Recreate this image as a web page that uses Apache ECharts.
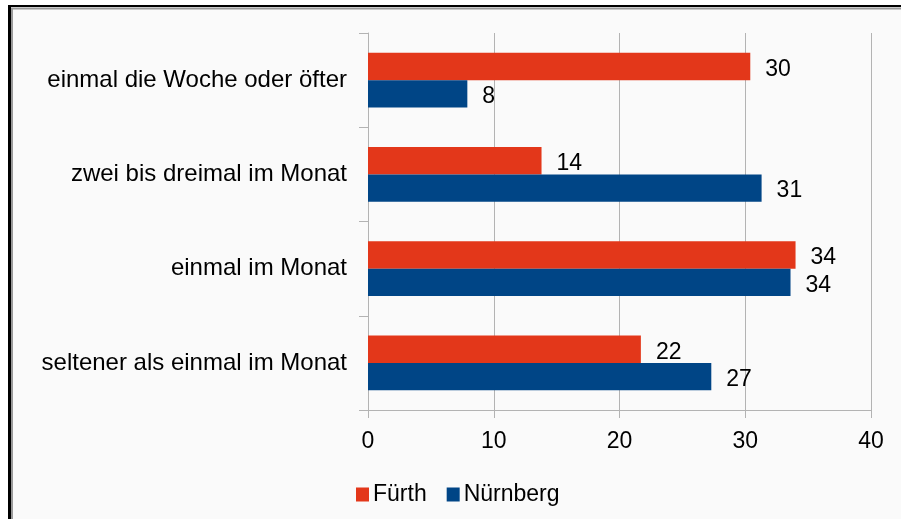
<!DOCTYPE html>
<html>
<head>
<meta charset="utf-8">
<script src="https://cdn.jsdelivr.net/npm/echarts@6/dist/echarts.min.js"></script>
<style>
  html, body { margin: 0; padding: 0; background: #ffffff; }
  #chart { width: 901px; height: 519px; }
</style>
</head>
<body>
<div id="chart"></div>
<script>
// data
var categories = [
    'einmal die Woche oder öfter',
    'zwei bis dreimal im Monat',
    'einmal im Monat',
    'seltener als einmal im Monat'
];
var fuerth = [30.4, 13.8, 34.0, 21.7];
var nuernberg = [7.9, 31.3, 33.6, 27.3];
var xTicks = [0, 10, 20, 30, 40];

var myChart = echarts.init(document.getElementById('chart'));
var font = 'Liberation Sans, Arial, sans-serif';
var gridColor = '#b3b3b3';

function valueLabel() {
    return {
        show: true, position: 'right', distance: 15, offset: [0, 3],
        fontSize: 23, color: '#000', fontFamily: font,
        formatter: function (p) { return Math.round(p.value); }
    };
}

var option = {
    backgroundColor: '#ffffff',
    animation: false,
    textStyle: { fontFamily: font },
    graphic: [
        // panel and frame
        { type: 'rect', z: -10, shape: { x: 9, y: 6, width: 892, height: 513 }, style: { fill: '#fafafa' } },
        { type: 'line', shape: { x1: 8, y1: 6, x2: 901, y2: 6 }, style: { stroke: '#000', lineWidth: 2 } },
        { type: 'line', shape: { x1: 9.5, y1: 5, x2: 9.5, y2: 519 }, style: { stroke: '#000', lineWidth: 3 } },
        { type: 'line', shape: { x1: 11, y1: 8.5, x2: 901, y2: 8.5 }, style: { stroke: '#9a9a9a', lineWidth: 2 } },
        { type: 'line', shape: { x1: 12, y1: 8, x2: 12, y2: 519 }, style: { stroke: '#9a9a9a', lineWidth: 2 } }
    ],
    legend: {
        left: 351,
        top: 478,
        itemWidth: 13,
        itemHeight: 14,
        itemGap: 20,
        icon: 'rect',
        textStyle: { fontSize: 23, color: '#000', fontFamily: font, padding: [0, 0, 0, -1] },
        data: ['Fürth', 'Nürnberg']
    },
    grid: {
        left: 368,
        right: 30,
        top: 33,
        bottom: 109
    },
    xAxis: {
        type: 'value',
        min: 0,
        max: 40,
        interval: 10,
        axisLine: { show: true, lineStyle: { color: gridColor } },
        axisTick: { show: true, length: 8, lineStyle: { color: gridColor } },
        splitLine: { show: true, lineStyle: { color: gridColor } },
        axisLabel: {
            fontSize: 23, color: '#000', margin: 20, fontFamily: font,
            formatter: function (v) { return xTicks.indexOf(v) >= 0 ? String(v) : ''; }
        }
    },
    yAxis: {
        type: 'category',
        inverse: true,
        data: categories,
        axisLine: { show: true, lineStyle: { color: gridColor } },
        axisTick: { show: true, length: 9, lineStyle: { color: gridColor } },
        axisLabel: { fontSize: 24, color: '#000', margin: 21, fontFamily: font, padding: [5, 0, 0, 0] }
    },
    series: [
        {
            name: 'Fürth',
            type: 'bar',
            data: fuerth,
            barGap: '0%',
            barCategoryGap: '42%',
            itemStyle: { color: '#e3371a' },
            label: valueLabel()
        },
        {
            name: 'Nürnberg',
            type: 'bar',
            data: nuernberg,
            barGap: '0%',
            barCategoryGap: '42%',
            itemStyle: { color: '#004586' },
            label: valueLabel()
        }
    ]
};
myChart.setOption(option);
</script>
</body>
</html>
